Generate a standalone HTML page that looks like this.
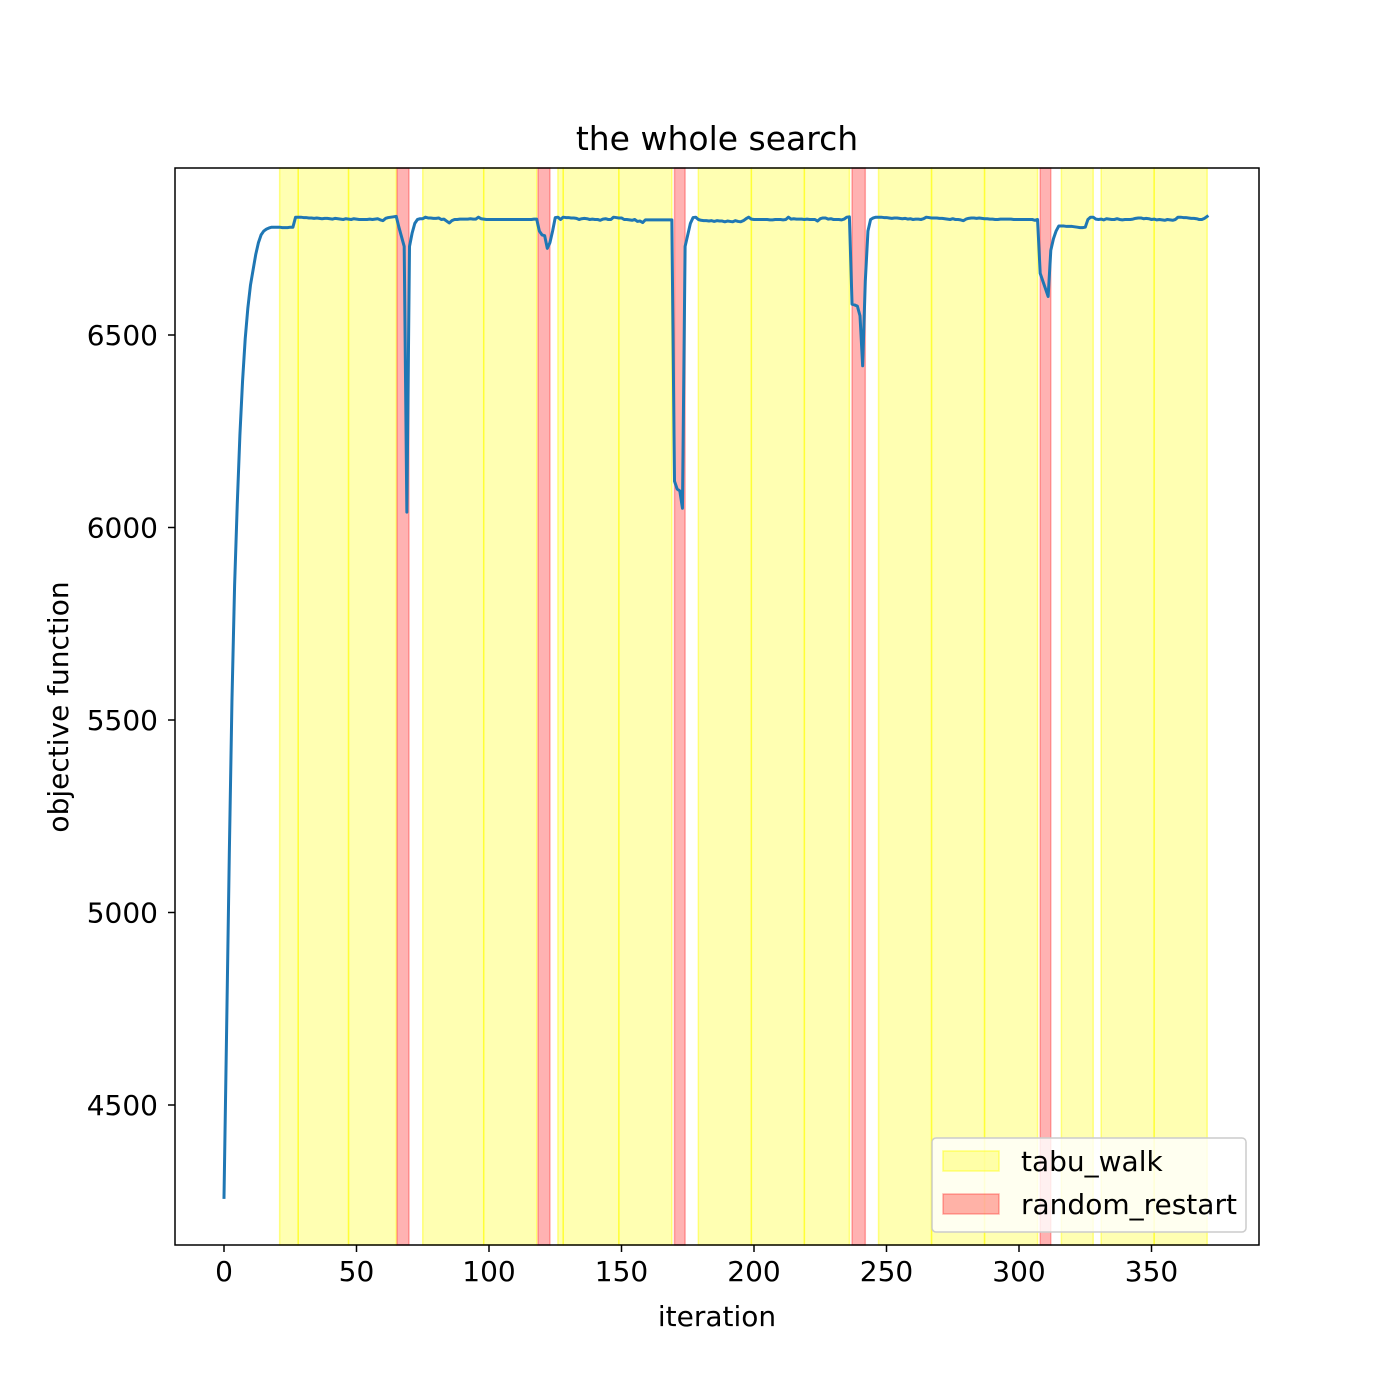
<!DOCTYPE html>
<html><head><meta charset="utf-8"><style>
body{margin:0;background:#fff}
svg{display:block;font-family:"DejaVu Sans","Liberation Sans",sans-serif}
</style></head><body>
<svg id="chart" width="1400" height="1400" viewBox="0 0 1400 1400">
<rect width="1400" height="1400" fill="#fff"/>
<g id="spans"></g>
<g id="lineg"></g>
<rect x="175" y="168" width="1084" height="1077" fill="none" stroke="#000" stroke-width="1.5"/>
<g id="xt"></g><g id="yt"></g>
<text x="717" y="150" font-size="33" text-anchor="middle">the whole search</text>
<text x="717" y="1326" font-size="28" text-anchor="middle">iteration</text>
<text transform="translate(68,707) rotate(-90)" font-size="28" text-anchor="middle">objective function</text>
<g>
<rect x="932" y="1138" width="314" height="94" rx="4" fill="#fff" fill-opacity="0.8" stroke="#ccc" stroke-width="1.5"/>
<rect x="943" y="1151" width="56" height="20" fill="#ffff00" fill-opacity="0.3" stroke="#ffff00" stroke-opacity="0.45" stroke-width="1.5"/>
<text x="1021" y="1171" font-size="28">tabu_walk</text>
<rect x="943" y="1194" width="56" height="20" fill="#ff0000" fill-opacity="0.3" stroke="#ff0000" stroke-opacity="0.3" stroke-width="1.5"/>
<text x="1021" y="1214" font-size="28">random_restart</text>
</g>
</svg>
<script>
const values = [4260,4700,5150,5550,5850,6060,6240,6380,6490,6570,6630,6670,6710,6740,6760,6770,6775,6778,6780,6780,6780,6780,6779,6779,6779,6780,6780,
6806,6806,6806,6805,6805,6804,6804,6803,6804,6803,6802,6803,6803,6802,6801,6803,6802,6801,6800,6802,6801,6800,6802,6801,6800,6800,6800,6800,6801,6800,6801,6802,6799,6797,6803,6805,6806,6807,
6808,6780,6755,6730,6040,6730,6765,6790,6800,6802,
6802,6806,6804,6804,6803,6803,6804,6800,6801,6796,6791,6797,6800,6800,6801,6801,6801,6801,6802,6801,6801,6806,6802,6801,6800,6800,6800,6800,6800,6800,6800,6800,6800,6800,6800,6800,6800,6800,6800,6800,6800,6800,6801,
6801,6770,6760,6758,6725,6740,6770,6805,6806,
6800,6806,6805,6805,6804,6804,6803,6800,6802,6803,6802,6800,6801,6800,6800,6798,6801,6802,6800,6800,6806,6805,6804,6804,6800,6800,6799,6798,6800,6795,6796,6792,6799,6799,6799,6799,6799,6799,6799,6799,6799,6799,6799,
6120,6100,6095,6050,6730,6760,6790,6805,6806,
6800,6798,6797,6797,6796,6797,6795,6797,6796,6796,6794,6796,6795,6794,6797,6795,6794,6797,6802,6806,6801,6800,6800,6800,6800,6800,6800,6799,6799,6800,6800,6800,6799,6800,6806,6801,6802,6801,6801,6801,6800,6801,6800,6800,6800,6796,6802,6804,6804,6801,6802,6800,6800,6800,6799,6801,6806,6807,
6580,6578,6575,6550,6420,6640,6770,6800,6804,6806,
6806,6806,6805,6805,6804,6803,6804,6804,6803,6802,6803,6801,6802,6800,6801,6801,6800,6802,6806,6805,6804,6804,6804,6803,6803,6802,6801,6800,6802,6800,6800,6799,6797,6801,6803,6804,6804,6803,6804,6803,6802,6802,6801,6801,6800,6800,6801,6801,6801,6801,6801,6800,6800,6800,6800,6800,6800,6800,6800,6798,6800,
6660,6640,6620,6600,6720,6750,6770,6783,6783,
6783,6782,6782,6782,6781,6780,6779,6779,6780,6800,6806,6806,6801,6800,6801,6799,6802,6801,6800,6800,6802,6800,6799,6800,6800,6800,6801,6803,6804,6804,6802,6803,6802,6800,6801,6799,6800,6799,6798,6800,6799,6798,6800,6806,6806,6805,6805,6804,6803,6803,6802,6800,6800,6803,6808];
const tabuStart = [21,28,47,75,98,126,128,149,179,199,219,247,267,287,316,331,351];
const tabuEnd   = [28,47,65,98,118,128,149,169,199,219,236,267,287,307,328,351,371];
const restartStart = [65.3,118.5,170,237,308];
const restartEnd   = [69.8,123,174,242,312];
const xTicks = [0,50,100,150,200,250,300,350];
const yTicks = [4500,5000,5500,6000,6500];

const NS='http://www.w3.org/2000/svg';
const X = v => 224 + (v-0)*2.65;
const Y = v => 335 + (6500-v)*192.5/500;
const plotTop=168, plotBot=1245;
const sp=document.getElementById('spans');
function span(a,b,fill,fo,stroke,so){
  const r=document.createElementNS(NS,'rect');
  r.setAttribute('x',X(a));r.setAttribute('y',plotTop);
  r.setAttribute('width',X(b)-X(a));r.setAttribute('height',plotBot-plotTop);
  r.setAttribute('fill',fill);r.setAttribute('fill-opacity',fo);
  r.setAttribute('stroke',stroke);r.setAttribute('stroke-opacity',so);r.setAttribute('stroke-width','1.5');
  sp.appendChild(r);return r;
}
tabuStart.forEach((s,i)=>{
  const r=span(s,tabuEnd[i],'#ffff00',0.3,'#ffff00',0.45);
  
  
});
restartStart.forEach((s,i)=>{
  const r=span(s,restartEnd[i],'#ff0000',0.3,'#ff0000',0.3);
  
  
});
const p=document.createElementNS(NS,'polyline');
p.setAttribute('points',values.map((v,i)=>X(i).toFixed(2)+','+Y(v).toFixed(2)).join(' '));
p.setAttribute('fill','none');p.setAttribute('stroke','#1f77b4');p.setAttribute('stroke-width','3');
p.setAttribute('stroke-linejoin','round');p.setAttribute('stroke-linecap','square');


document.getElementById('lineg').appendChild(p);
const xt=document.getElementById('xt');
xTicks.forEach(t=>{
  const l=document.createElementNS(NS,'line');
  l.setAttribute('x1',X(t));l.setAttribute('x2',X(t));l.setAttribute('y1',plotBot);l.setAttribute('y2',plotBot+7);
  l.setAttribute('stroke','#000');l.setAttribute('stroke-width','1.5');
  
  
  xt.appendChild(l);
  const tx=document.createElementNS(NS,'text');
  tx.setAttribute('x',X(t));tx.setAttribute('y',plotBot+36);tx.setAttribute('font-size','28');tx.setAttribute('text-anchor','middle');
  tx.textContent=t;
  
  
  xt.appendChild(tx);
});
const yt=document.getElementById('yt');
yTicks.forEach(t=>{
  const l=document.createElementNS(NS,'line');
  l.setAttribute('x1',168);l.setAttribute('x2',175);l.setAttribute('y1',Y(t));l.setAttribute('y2',Y(t));
  l.setAttribute('stroke','#000');l.setAttribute('stroke-width','1.5');
  
  
  yt.appendChild(l);
  const tx=document.createElementNS(NS,'text');
  tx.setAttribute('x',158);tx.setAttribute('y',Y(t)+10);tx.setAttribute('font-size','28');tx.setAttribute('text-anchor','end');
  tx.textContent=t;
  
  
  yt.appendChild(tx);
});
</script>
</body></html>
